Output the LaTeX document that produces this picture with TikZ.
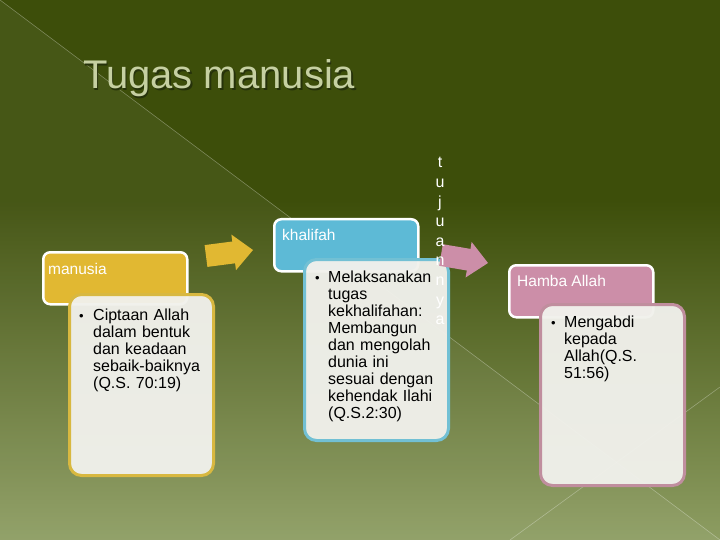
\documentclass[tikz,border=0pt]{standalone}
\usepackage{fontspec}
\setmainfont{Liberation Sans}
\definecolor{bgtop}{HTML}{3D4E0A}
\definecolor{bgmid}{HTML}{5D7126}
\definecolor{bgbot}{HTML}{8D9D62}
\definecolor{titlecol}{HTML}{C6D0A2}
\definecolor{titleshadow}{HTML}{26320A}
\definecolor{ylw}{HTML}{E1B832}
\definecolor{ylwline}{HTML}{D8B840}
\definecolor{blu}{HTML}{5DBAD6}
\definecolor{bluline}{HTML}{72C0D4}
\definecolor{pnk}{HTML}{CC8EA8}
\definecolor{pnkline}{HTML}{C08E9E}
\definecolor{cardfill}{HTML}{F1F1EC}
\tikzset{
  hdr/.style={rectangle, rounded corners=7pt, draw=white, line width=2.5pt,
    minimum width=144pt, minimum height=52pt, anchor=north west, inner sep=0pt},
  card/.style={rectangle, rounded corners=12pt, fill=cardfill, fill opacity=0.96,
    line width=3pt, minimum width=144pt, minimum height=181pt, anchor=north west, inner sep=0pt},
  hdrtext/.style={anchor=base west, inner sep=0pt, text=white, font=\fontsize{15.5}{17}\selectfont},
  bodytext/.style={anchor=base west, inner sep=0pt, text=black, text width=125pt, align=left,
    font=\fontsize{16}{17}\selectfont},
  bullettext/.style={anchor=base west, inner sep=0pt, text=black, font=\fontsize{13}{17}\selectfont},
  decoline/.style={white, opacity=0.3, line width=0.6pt}
}
\begin{document}
\begin{tikzpicture}[x=1pt, y=-1pt]
\useasboundingbox (0,0) rectangle (720,540);
% background
\fill[bgtop] (0,0) rectangle (720,201);
\shade[top color=bgtop, middle color=bgmid, bottom color=bgbot] (0,200) rectangle (720,540);
\fill[white, opacity=0.05] (0,0) -- (720,540) -- (0,540) -- cycle;
\draw[decoline] (0,0) -- (720,540);
\draw[decoline] (720,387) -- (510,540);
% title
\node[anchor=base west, inner sep=0pt, text=titleshadow, font=\fontsize{40}{44}\selectfont] (titleshadow) at (84.5,90.5) {Tugas manusia};
\node[anchor=base west, inner sep=0pt, text=titlecol, font=\fontsize{40}{44}\selectfont] (title) at (83,89) {Tugas manusia};
% group 1
\node[hdr, fill=ylw] (h1) at (42,251) {};
\node[hdrtext] (h1t) at (48,274) {manusia};
\node[card, draw=ylwline] (c1) at (68,293) {};
\node[bullettext] (b1) at (79,320) {•};
\node[bodytext] (t1) at (93,320) {Ciptaan Allah\\dalam bentuk\\dan keadaan\\sebaik-baiknya\\(Q.S. 70:19)};
% yellow arrow
\fill[ylw] (204.6,245.1) -- (232.3,241.5) -- (231.4,234.6) -- (253,250) -- (236,270.2) -- (235.1,263.3) -- (207.4,266.9) -- cycle;
% group 2
\node[hdr, fill=blu] (h2) at (273,218) {};
\node[hdrtext] (h2t) at (282,240.5) {khalifah};
\node[card, draw=bluline] (c2) at (303,258) {};
\node[bullettext] (b2) at (315,282) {•};
\node[bodytext] (t2) at (328,282) {Melaksanakan\\tugas\\kekhalifahan:\\Membangun\\dan mengolah\\dunia ini\\sesuai dengan\\kehendak Ilahi\\(Q.S.2:30)};
% pink arrow
\fill[pnk] (442.8,244.2) -- (470.5,248.9) -- (471.6,241.9) -- (488,263) -- (465.6,277.5) -- (466.8,270.5) -- (439.2,265.8) -- cycle;
% group 3
\node[hdr, fill=pnk] (h3) at (508,264) {};
\node[hdrtext] (h3t) at (517,286) {Hamba Allah};
\node[card, draw=pnkline] (c3) at (539,303) {};
\node[bullettext] (b3) at (551,327) {•};
\node[bodytext] (t3) at (564,327) {Mengabdi\\kepada\\Allah(Q.S.\\51:56)};
% vertical text
\node[anchor=base, inner sep=0pt, text=white, text width=14pt, align=center,
  font=\fontsize{16}{19.6}\selectfont] (vt) at (440,168) {t\\u\\j\\u\\a\\n\\n\\y\\a};
\end{tikzpicture}
\end{document}
